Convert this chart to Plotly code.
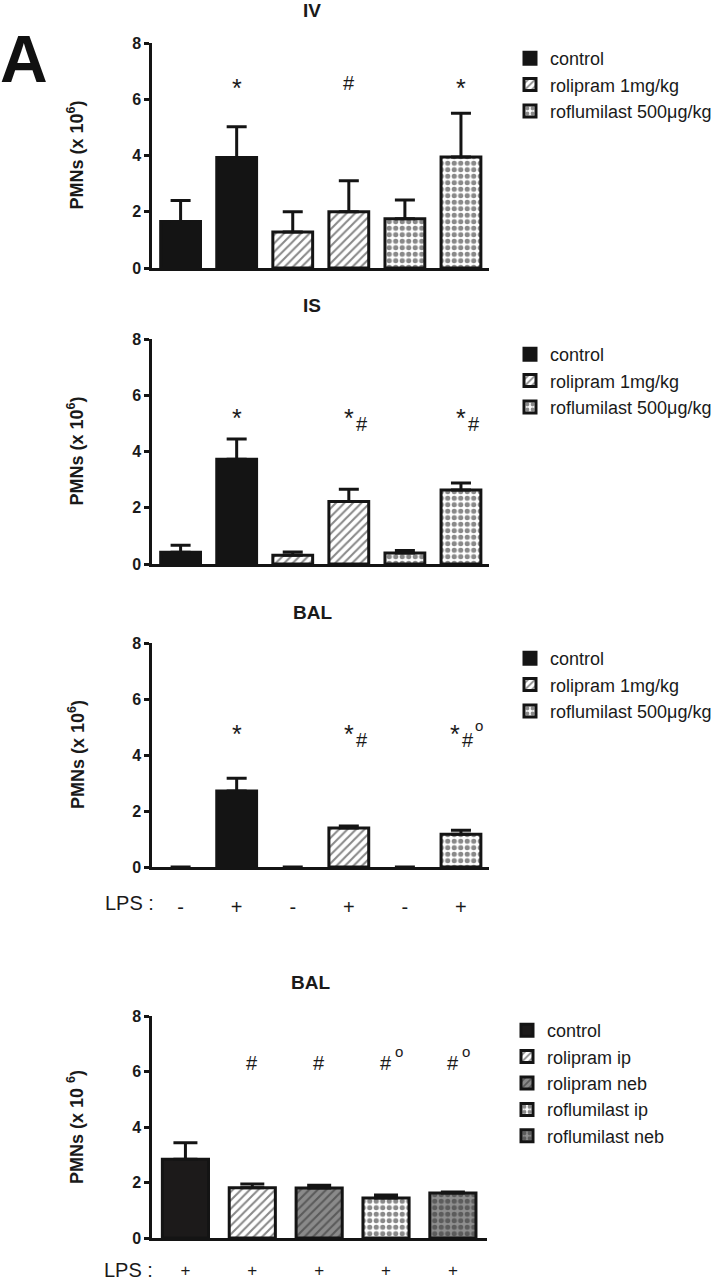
import plotly.graph_objects as go

FONT = "Liberation Sans"
W, H = 712, 1282

# ---------------- data ----------------
groups = ["control", "rolipram 1mg/kg", "roflumilast 500μg/kg"]
categories = ["control -", "control +", "rolipram -", "rolipram +", "roflumilast -", "roflumilast +"]
lps_labels = ["-", "+", "-", "+", "-", "+"]

iv_mean = [1.65, 3.93, 1.28, 2.0, 1.75, 3.95]
iv_upper = [2.4, 5.02, 2.0, 3.1, 2.42, 5.5]
iv_sig = ["", "*", "", "#", "", "*"]

is_mean = [0.42, 3.72, 0.31, 2.22, 0.39, 2.63]
is_upper = [0.67, 4.44, 0.43, 2.66, 0.48, 2.88]
is_sig = ["", "*", "", "*#", "", "*#"]

bal_mean = [0, 2.71, 0, 1.39, 0, 1.17]
bal_upper = [0, 3.17, 0, 1.46, 0, 1.31]
bal_sig = ["", "*", "", "*#", "", "*#°"]

route_groups = ["control", "rolipram ip", "rolipram neb", "roflumilast ip", "roflumilast neb"]
route_lps = ["+", "+", "+", "+", "+"]
route_mean = [2.84, 1.81, 1.8, 1.44, 1.62]
route_upper = [3.43, 1.95, 1.9, 1.55, 1.66]
route_sig = ["", "#", "#", "#°", "#°"]

yticks = [0, 2, 4, 6, 8]

# ---------------- styles ----------------
BLACK = "#141414"
TXT = "#1a1a1a"
HATCH = dict(shape="/", fgcolor=BLACK, bgcolor="white", size=6, solidity=0.35)
CHECK = dict(shape=".", fgcolor=BLACK, bgcolor="white", size=6.5, solidity=0.5)
style_3 = [
    dict(color=BLACK),
    dict(color="white", pattern=HATCH),
    dict(color="white", pattern=CHECK),
]
style_5 = [
    dict(color="#1c1a1a"),
    dict(color="white", pattern=HATCH),
    dict(color="#8a8a8a", pattern=dict(HATCH, fgcolor="#2a2a2a", bgcolor="#8a8a8a")),
    dict(color="white", pattern=CHECK),
    dict(color="#8f8f8f", pattern=dict(CHECK, fgcolor="#2a2a2a", bgcolor="#8f8f8f")),
]

# glyph offsets (px) for significance marks: (dx, dy up, size)
MARK_MAIN = {"*": (0, -5.5, 25), "#": (0, 0, 20)}
GROUP_SHIFT = {"*#°": -6}


def py(px):
    return 1 - px / H


def pxx(px):
    return px / W


fig = go.Figure()
annotations = []
axis_font = dict(family=FONT, size=16, color=TXT, weight="bold")


def add_marks(sig, cats, level, xa, ya, follow):
    for c, s in zip(cats, sig):
        if not s:
            continue
        gs = GROUP_SHIFT.get(s, 0)
        first = s[0]
        dx, dy, sz = MARK_MAIN[first]
        annotations.append(dict(x=c, y=level, xref=xa, yref=ya, text=first, showarrow=False,
                                xanchor="center", yanchor="middle", xshift=dx + gs, yshift=dy,
                                font=dict(family=FONT, size=sz, color=TXT)))
        for ch in s[1:]:
            fx, fy, fs = follow[ch]
            text = ch if ch != "°" else "o"
            annotations.append(dict(x=c, y=level, xref=xa, yref=ya, text=text, showarrow=False,
                                    xanchor="center", yanchor="middle", xshift=fx + gs, yshift=fy,
                                    font=dict(family=FONT, size=fs, color=TXT)))


panels = [
    dict(top=43, bottom=268, mean=iv_mean, upper=iv_upper, sig=iv_sig, level=6.58, title="IV",
         title_y=10, ticks=False),
    dict(top=339, bottom=564, mean=is_mean, upper=is_upper, sig=is_sig, level=5.37, title="IS",
         title_y=305, ticks=False),
    dict(top=643, bottom=867, mean=bal_mean, upper=bal_upper, sig=bal_sig, level=4.93, title="BAL",
         title_y=612, ticks=True),
]
follow_3 = {"#": (13, -11, 20), "°": (24, 3, 15)}

for i, p in enumerate(panels):
    k = i + 1
    xa = "x" if k == 1 else f"x{k}"
    ya = "y" if k == 1 else f"y{k}"
    lg = "legend" if k == 1 else f"legend{k}"
    for g in range(3):
        # the LPS+ bar first, so the legend swatch takes its outline
        idx = [2 * g + 1, 2 * g]
        xs = [categories[j] for j in idx]
        ys = [p["mean"][j] for j in idx]
        ups = [p["upper"][j] for j in idx]
        errs = [(u - m) if u > m else None for u, m in zip(ups, ys)]
        fig.add_trace(go.Bar(
            x=xs, y=ys, name=groups[g], xaxis=xa, yaxis=ya, legend=lg,
            legendgroup=f"{k}-{g}", width=0.71,
            marker=dict(**style_3[g], line=dict(color=BLACK, width=[3 if v > 0 else 0 for v in ys])),
            error_y=dict(type="data", array=errs, arrayminus=[0] * len(errs), symmetric=False,
                         thickness=3, width=10, color=BLACK),
            hoverinfo="skip",
        ))
    fig.update_layout(**{
        ("xaxis" if k == 1 else f"xaxis{k}"): dict(
            domain=[pxx(152), pxx(489)], anchor=ya, type="category",
            categoryorder="array", categoryarray=categories, range=[-0.51, 5.5],
            showline=True, linecolor=BLACK, linewidth=2.5, ticks="",
            showticklabels=p["ticks"], tickvals=categories, ticktext=lps_labels,
            tickfont=dict(family=FONT, size=20, color=TXT), ticklabelstandoff=20,
            showgrid=False, zeroline=False, fixedrange=True, automargin=False),
        ("yaxis" if k == 1 else f"yaxis{k}"): dict(
            domain=[py(p["bottom"]), py(p["top"])], anchor=xa, range=[0, 8],
            tickvals=yticks, ticks="outside", ticklen=5, tickwidth=2.5, tickcolor=BLACK,
            showline=True, linecolor=BLACK, linewidth=2.5, tickfont=axis_font,
            showgrid=False, zeroline=False, fixedrange=True, automargin=False),
        lg: dict(x=pxx(510), xanchor="left", y=py(p["top"] - 3), yanchor="top",
                 font=dict(family=FONT, size=18, color=TXT), traceorder="grouped",
                 tracegroupgap=0, bgcolor="rgba(0,0,0,0)"),
    })
    add_marks(p["sig"], categories, p["level"], xa, ya, follow_3)
    annotations.append(dict(x=pxx(312), y=py(p["title_y"]), xref="paper", yref="paper",
                            text=p["title"], showarrow=False, xanchor="center", yanchor="middle",
                            font=dict(family=FONT, size=19, color=TXT, weight="bold")))
    annotations.append(dict(x=pxx(76), y=py((p["top"] + p["bottom"]) / 2), xref="paper", yref="paper",
                            text="PMNs (x 10<sup>6</sup>)", textangle=-90, showarrow=False,
                            xanchor="center", yanchor="middle",
                            font=dict(family=FONT, size=18, color=TXT, weight="bold")))

# LPS label for panel 3
annotations.append(dict(x=pxx(156), y=py(903), xref="paper", yref="paper", text="LPS :",
                        showarrow=False, xanchor="right", yanchor="middle",
                        font=dict(family=FONT, size=20, color=TXT)))

# ---------------- panel 4 ----------------
for g in range(5):
    up = route_upper[g] - route_mean[g]
    fig.add_trace(go.Bar(
        x=[route_groups[g]], y=[route_mean[g]], name=route_groups[g], xaxis="x4", yaxis="y4",
        legend="legend4", legendgroup=f"4-{g}", width=0.69,
        marker=dict(**style_5[g], line=dict(color=BLACK, width=3)),
        error_y=dict(type="data", array=[up], arrayminus=[0], symmetric=False,
                     thickness=3, width=12, color=BLACK),
        hoverinfo="skip",
    ))
follow_4 = {"°": (13, 11, 15)}
add_marks(route_sig, route_groups, 6.31, "x4", "y4", follow_4)

fig.update_layout(
    xaxis4=dict(domain=[pxx(152), pxx(487)], anchor="y4", type="category",
                categoryorder="array", categoryarray=route_groups, range=[-0.5, 4.51],
                showline=True, linecolor=BLACK, linewidth=2.5, ticks="",
                tickvals=route_groups, ticktext=route_lps,
                tickfont=dict(family=FONT, size=17, color=TXT), ticklabelstandoff=15,
                showgrid=False, zeroline=False, fixedrange=True, automargin=False),
    yaxis4=dict(domain=[py(1238), py(1016)], anchor="x4", range=[0, 8],
                tickvals=yticks, ticks="outside", ticklen=5, tickwidth=2.5, tickcolor=BLACK,
                showline=True, linecolor=BLACK, linewidth=2.5, tickfont=axis_font,
                showgrid=False, zeroline=False, fixedrange=True, automargin=False),
    legend4=dict(x=pxx(507), xanchor="left", y=py(1012), yanchor="top",
                 font=dict(family=FONT, size=18, color=TXT), traceorder="grouped",
                 tracegroupgap=0, bgcolor="rgba(0,0,0,0)"),
)
annotations.append(dict(x=pxx(310), y=py(982), xref="paper", yref="paper", text="BAL",
                        showarrow=False, xanchor="center", yanchor="middle",
                        font=dict(family=FONT, size=19, color=TXT, weight="bold")))
annotations.append(dict(x=pxx(75), y=py(1127), xref="paper", yref="paper",
                        text="PMNs (x 10 <sup>6</sup>)", textangle=-90, showarrow=False,
                        xanchor="center", yanchor="middle",
                        font=dict(family=FONT, size=18, color=TXT, weight="bold")))
annotations.append(dict(x=pxx(155), y=py(1270), xref="paper", yref="paper", text="LPS :",
                        showarrow=False, xanchor="right", yanchor="middle",
                        font=dict(family=FONT, size=20, color=TXT)))

# panel letter
annotations.append(dict(x=pxx(24), y=py(59), xref="paper", yref="paper", text="A",
                        showarrow=False, xanchor="center", yanchor="middle",
                        font=dict(family=FONT, size=66, color="#111111", weight="bold")))

fig.update_layout(
    width=W, height=H, margin=dict(l=0, r=0, t=0, b=0, pad=0, autoexpand=False),
    paper_bgcolor="white", plot_bgcolor="white",
    barmode="overlay", showlegend=True, annotations=annotations,
    font=dict(family=FONT, color=TXT),
)

fig.write_html(
    "out.html",
    config={"displayModeBar": False},
    post_script="document.body.style.margin='0px';document.body.style.overflow='hidden';",
)
